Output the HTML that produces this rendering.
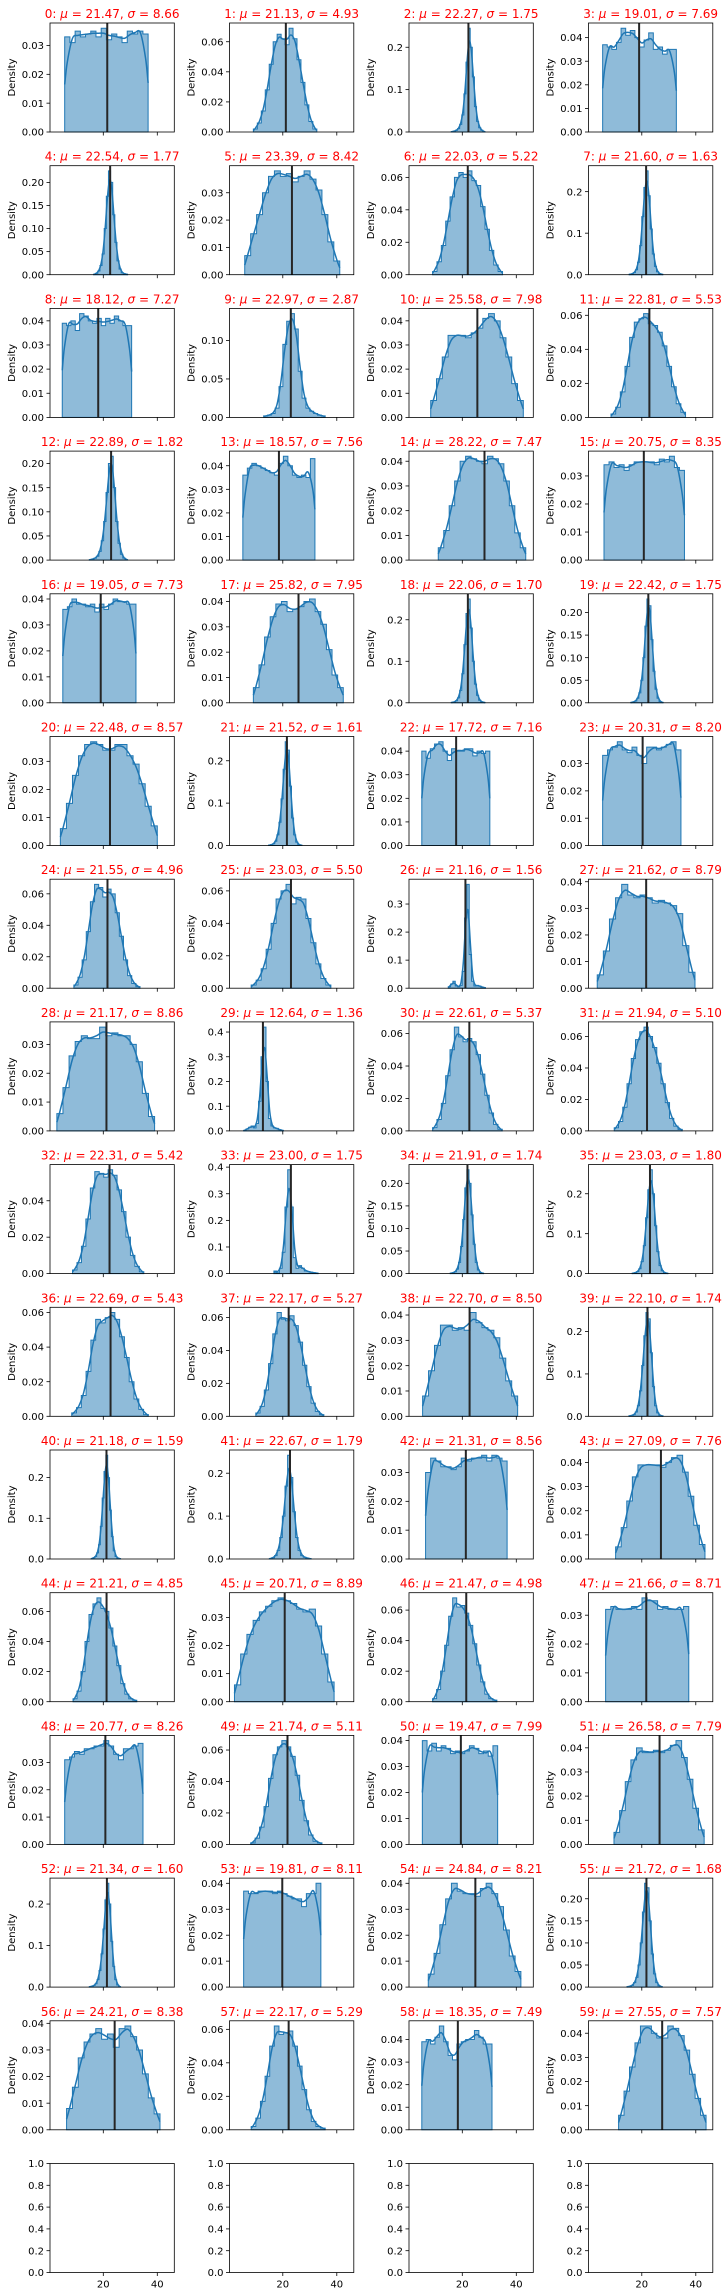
<!DOCTYPE html>
<html><head><meta charset="utf-8">
<style>
html,body{margin:0;padding:0;background:#fff;}
svg{display:block;font-family:"DejaVu Sans","Liberation Sans",sans-serif;}
</style></head>
<body>
<svg id="fig" width="723" height="2296" viewBox="0 0 723 2296" xmlns="http://www.w3.org/2000/svg"></svg>
<script>
const mus=[21.47,21.13,22.27,19.01,22.54,23.39,22.03,21.60,18.12,22.97,25.58,22.81,22.89,18.57,28.22,20.75,19.05,25.82,22.06,22.42,22.48,21.52,17.72,20.31,21.55,23.03,21.16,21.62,21.17,12.64,22.61,21.94,22.31,23.00,21.91,23.03,22.69,22.17,22.70,22.10,21.18,22.67,21.31,27.09,21.21,20.71,21.47,21.66,20.77,21.74,19.47,26.58,21.34,19.81,24.84,21.72,24.21,22.17,18.35,27.55];
const sigmas=[8.66,4.93,1.75,7.69,1.77,8.42,5.22,1.63,7.27,2.87,7.98,5.53,1.82,7.56,7.47,8.35,7.73,7.95,1.70,1.75,8.57,1.61,7.16,8.20,4.96,5.50,1.56,8.79,8.86,1.36,5.37,5.10,5.42,1.75,1.74,1.80,5.43,5.27,8.50,1.74,1.59,1.79,8.56,7.76,4.85,8.89,4.98,8.71,8.26,5.11,7.99,7.79,1.60,8.11,8.21,1.68,8.38,5.29,7.49,7.57];
const los=[5.7,9.1,15.9,5.5,16.4,5.9,9.0,15.3,4.8,12.9,8.3,8.6,14.8,5.2,11.1,6.0,5.0,9.1,15.9,15.9,4.1,14.7,5.0,5.5,9.1,8.3,14.8,3.5,2.8,5.5,9.0,9.8,8.6,16.7,15.5,16.4,8.3,10.0,5.3,15.2,15.5,15.0,6.4,10.3,8.8,2.1,9.0,6.6,5.7,8.1,5.2,9.7,14.8,5.5,7.4,14.5,6.4,8.3,5.0,11.4];
const his=[36.6,32.6,28.4,32.8,29.0,41.1,34.9,27.8,30.5,35.7,42.6,36.2,29.0,31.9,43.5,35.8,32.1,42.4,28.4,27.9,40.0,27.1,30.2,34.5,33.6,37.8,28.6,39.7,39.0,20.2,34.8,35.0,35.0,33.1,27.9,29.7,36.7,35.2,40.5,27.9,26.4,30.5,36.6,43.4,32.4,39.0,32.8,37.4,34.7,34.5,33.1,43.1,26.4,34.1,41.7,27.6,41.0,35.7,31.0,43.8];
const bins=[
[.033,.031,.035,.033,.034,.035,.033,.036,.032,.034,.033,.031,.035,.034,.035,.034],
[.002,.006,.014,.028,.045,.060,.065,.062,.058,.069,.062,.048,.033,.018,.007,.002],
[.001,.002,.004,.008,.018,.040,.090,.165,.245,.200,.130,.060,.025,.010,.004,.001],
[.037,.036,.035,.038,.044,.041,.043,.040,.036,.039,.042,.035,.036,.033,.035,.035],
[.001,.003,.008,.020,.045,.100,.170,.225,.200,.130,.070,.030,.012,.004,.002,.001],
[.007,.015,.022,.030,.036,.038,.036,.037,.034,.036,.038,.035,.031,.022,.012,.005],
[.002,.008,.018,.033,.048,.060,.063,.060,.064,.058,.055,.042,.028,.015,.006,.002],
[.001,.002,.005,.012,.030,.070,.140,.210,.250,.190,.110,.050,.020,.007,.002,.001],
[.039,.038,.040,.036,.043,.042,.040,.039,.041,.038,.041,.039,.042,.040,.038,.038],
[.002,.003,.005,.012,.040,.095,.125,.135,.115,.060,.025,.012,.008,.005,.003,.002],
[.007,.016,.025,.034,.034,.034,.033,.035,.037,.041,.043,.040,.033,.025,.014,.007],
[.002,.006,.015,.030,.047,.056,.058,.061,.055,.054,.050,.042,.030,.018,.008,.003],
[.001,.002,.004,.008,.018,.040,.080,.140,.200,.215,.150,.080,.035,.012,.004,.001],
[.036,.039,.041,.040,.039,.038,.037,.036,.041,.044,.040,.036,.035,.036,.035,.043],
[.005,.012,.022,.032,.040,.042,.041,.040,.039,.042,.041,.039,.032,.022,.011,.005],
[.034,.035,.033,.034,.032,.034,.035,.035,.035,.035,.034,.036,.035,.037,.033,.032],
[.036,.037,.040,.038,.038,.037,.038,.035,.038,.036,.038,.040,.039,.039,.038,.038],
[.006,.015,.026,.034,.039,.040,.036,.037,.038,.040,.041,.036,.031,.021,.011,.006],
[.001,.002,.005,.012,.030,.070,.140,.215,.250,.180,.100,.045,.018,.006,.002,.001],
[.001,.002,.004,.010,.022,.050,.100,.170,.230,.215,.140,.070,.030,.010,.003,.001],
[.006,.015,.025,.032,.036,.037,.036,.034,.034,.036,.036,.032,.029,.022,.014,.007],
[.001,.002,.004,.010,.025,.055,.110,.180,.245,.225,.140,.065,.025,.008,.002,.001],
[.040,.037,.041,.043,.044,.040,.036,.041,.040,.040,.041,.041,.038,.040,.039,.040],
[.033,.035,.036,.038,.035,.034,.036,.033,.030,.036,.036,.035,.036,.037,.038,.035],
[.002,.007,.018,.036,.055,.066,.064,.058,.063,.060,.048,.033,.018,.008,.003,.001],
[.002,.005,.012,.024,.040,.055,.060,.064,.052,.056,.055,.043,.028,.015,.006,.002],
[.005,.015,.025,.008,.005,.010,.060,.250,.370,.120,.025,.008,.010,.008,.004,.002],
[.005,.014,.026,.034,.039,.035,.034,.035,.034,.032,.033,.032,.031,.028,.016,.006],
[.006,.015,.026,.031,.033,.032,.032,.036,.033,.034,.033,.033,.030,.024,.013,.005],
[.002,.008,.015,.020,.012,.030,.120,.300,.420,.200,.050,.020,.012,.010,.005,.002],
[.002,.007,.017,.034,.050,.064,.058,.055,.057,.055,.047,.035,.022,.011,.004,.001],
[.002,.006,.015,.030,.046,.058,.063,.066,.060,.053,.043,.030,.018,.008,.003,.001],
[.002,.006,.015,.030,.047,.056,.055,.053,.057,.054,.046,.034,.020,.010,.004,.001],
[.010,.003,.020,.080,.250,.390,.250,.060,.020,.030,.020,.010,.008,.005,.003,.002],
[.001,.002,.004,.010,.025,.060,.120,.190,.230,.200,.130,.065,.025,.008,.002,.001],
[.001,.002,.005,.012,.030,.070,.140,.210,.260,.200,.120,.055,.020,.007,.002,.001],
[.002,.005,.012,.026,.044,.056,.054,.057,.060,.056,.046,.034,.020,.010,.004,.001],
[.002,.006,.016,.032,.050,.063,.059,.058,.061,.055,.045,.031,.018,.008,.003,.001],
[.008,.018,.028,.036,.036,.034,.035,.034,.041,.037,.035,.034,.031,.023,.014,.008],
[.001,.002,.004,.010,.025,.060,.120,.190,.245,.230,.150,.070,.025,.008,.002,.001],
[.001,.003,.006,.015,.035,.080,.150,.215,.255,.200,.120,.055,.020,.006,.002,.001],
[.001,.003,.008,.020,.050,.100,.170,.242,.190,.110,.050,.020,.008,.004,.002,.001],
[.030,.035,.034,.032,.032,.031,.032,.035,.034,.035,.035,.036,.034,.036,.035,.034],
[.005,.013,.024,.034,.039,.039,.039,.039,.038,.040,.042,.043,.036,.026,.014,.006],
[.002,.007,.020,.040,.058,.065,.069,.062,.060,.049,.037,.024,.012,.005,.002,.001],
[.006,.017,.024,.029,.032,.034,.036,.037,.036,.035,.033,.032,.033,.027,.017,.007],
[.002,.008,.020,.037,.056,.068,.062,.063,.058,.050,.038,.024,.013,.005,.002,.001],
[.032,.033,.032,.032,.032,.033,.032,.036,.035,.035,.032,.033,.032,.032,.032,.033],
[.031,.032,.034,.033,.035,.035,.036,.036,.038,.036,.033,.031,.035,.035,.036,.037],
[.001,.004,.011,.024,.042,.057,.062,.066,.062,.056,.044,.028,.015,.006,.002,.001],
[.040,.036,.039,.036,.038,.037,.035,.036,.035,.036,.038,.037,.035,.036,.034,.038],
[.005,.014,.026,.035,.040,.038,.038,.039,.038,.039,.041,.043,.036,.027,.015,.006],
[.001,.002,.004,.008,.018,.040,.080,.140,.210,.250,.200,.110,.050,.018,.005,.001],
[.037,.036,.036,.037,.037,.037,.036,.037,.036,.035,.034,.034,.031,.036,.036,.040],
[.005,.013,.024,.034,.040,.037,.036,.036,.035,.038,.040,.036,.031,.022,.012,.006],
[.001,.002,.004,.010,.022,.050,.100,.170,.235,.225,.150,.075,.030,.010,.003,.001],
[.008,.016,.027,.033,.036,.038,.034,.036,.031,.038,.039,.035,.030,.021,.012,.006],
[.002,.007,.017,.032,.050,.062,.057,.058,.059,.050,.038,.024,.012,.005,.002,.001],
[.039,.040,.038,.041,.046,.039,.033,.031,.038,.039,.040,.040,.044,.041,.038,.038],
[.006,.016,.026,.036,.043,.043,.040,.038,.038,.043,.042,.039,.033,.023,.013,.006]
];
const xTicks=[20,40];
const emptyYTicks=[0,0.2,0.4,0.6,0.8,1.0];

const NS="http://www.w3.org/2000/svg";
const svg=document.getElementById('fig');
const LEFTS=[50,229.5,409,588.5], W=124.3, H=109, TOP0=23, DY=142.7;
const XMIN=0.26, XMAX=46.3;
function mk(tag,attrs,parent){const e=document.createElementNS(NS,tag);for(const k in attrs)e.setAttribute(k,attrs[k]);(parent||svg).appendChild(e);return e;}
function niceStep(top){const raw=top/5;const p=Math.pow(10,Math.floor(Math.log10(raw)));for(const m of [1,2,2.5,5,10]){if(m*p>=raw-1e-12)return m*p;}return 10*p;}
function smooth(b){const n=b.length;return b.map((v,i)=>0.25*(i>0?b[i-1]:0)+0.5*v+0.25*(i<n-1?b[i+1]:0));}
function catmull(pts){let d=`M${pts[0][0]},${pts[0][1]}`;for(let i=0;i<pts.length-1;i++){const p0=pts[i-1]||pts[i],p1=pts[i],p2=pts[i+1],p3=pts[i+2]||p2;
const c1=[p1[0]+(p2[0]-p0[0])/6,p1[1]+(p2[1]-p0[1])/6],c2=[p2[0]-(p3[0]-p1[0])/6,p2[1]-(p3[1]-p1[1])/6];
d+=` C${c1[0].toFixed(2)},${c1[1].toFixed(2)} ${c2[0].toFixed(2)},${c2[1].toFixed(2)} ${p2[0].toFixed(2)},${p2[1].toFixed(2)}`;}return d;}

function drawAxes(g,L,T,yTop,step,labelX){
  const ys=v=>T+H-(v/yTop)*H;
  const dec=step>=0.1-1e-9?1:2;
  for(let v=0;v<=yTop+1e-9;v+=step){
    const y=ys(v);
    const tk=mk('line',{x1:L-3.5,x2:L,y1:y,y2:y,stroke:'#000','stroke-width':0.8},g);
    
    
    const t=mk('text',{x:L-6,y:y+3.6,'text-anchor':'end','font-size':10,fill:'#000'},g);
    
    
    t.textContent=(Math.round(v/step)*step).toFixed(dec);
  }
  const xs=v=>L+(v-XMIN)/(XMAX-XMIN)*W;
  xTicks.forEach(v=>{
    const x=xs(v);
    const tk=mk('line',{x1:x,x2:x,y1:T+H,y2:T+H+3.5,stroke:'#000','stroke-width':0.8},g);
    
    
    if(labelX){const t=mk('text',{x:x,y:T+H+15,'text-anchor':'middle','font-size':10,fill:'#000'},g);
      
      
      t.textContent=v;}
  });
  const fr=mk('rect',{x:L,y:T,width:W,height:H,fill:'none',stroke:'#000','stroke-width':0.8},g);
  
  
}

for(let i=0;i<64;i++){
  const r=Math.floor(i/4),c=i%4;
  const L=LEFTS[c],T=TOP0+r*DY;
  const g=mk('g',{});
  
  
  if(i>=60){drawAxes(g,L,T,1.0,0.2,true);continue;}
  const b=bins[i],n=b.length,lo=los[i],hi=his[i],bw=(hi-lo)/n;
  const sm=smooth(b);
  const kpts=[[lo,b[0]/2]];for(let k=0;k<n;k++)kpts.push([lo+(k+0.5)*bw,sm[k]]);kpts.push([hi,b[n-1]/2]);
  const ymax=Math.max(...b,...sm);
  const yTop=ymax*1.05;
  const step=niceStep(yTop);
  const xs=v=>L+(v-XMIN)/(XMAX-XMIN)*W;
  const ys=v=>T+H-(v/yTop)*H;
  // histogram
  let d=`M${xs(lo).toFixed(2)},${ys(0).toFixed(2)}`;
  for(let k=0;k<n;k++){d+=` L${xs(lo+k*bw).toFixed(2)},${ys(b[k]).toFixed(2)} L${xs(lo+(k+1)*bw).toFixed(2)},${ys(b[k]).toFixed(2)}`;}
  d+=` L${xs(hi).toFixed(2)},${ys(0).toFixed(2)} Z`;
  const hp=mk('path',{d:d,fill:'rgba(31,119,180,0.5)',stroke:'#1f77b4','stroke-width':1,'stroke-linejoin':'miter'},g);
  
  
  const kp=mk('path',{d:catmull(kpts.map(p=>[xs(p[0]),ys(p[1])])),fill:'none',stroke:'#1f77b4','stroke-width':1.5},g);
  
  
  const ml=mk('line',{x1:xs(mus[i]),x2:xs(mus[i]),y1:T,y2:T+H,stroke:'#262626','stroke-width':2},g);
  
  
  drawAxes(g,L,T,yTop,step,false);
  const yl=mk('text',{x:0,y:0,'text-anchor':'middle','font-size':10,fill:'#000',transform:`translate(${L-35},${T+H/2}) rotate(-90)`},g);
  
  
  yl.textContent='Density';
  const tt=mk('text',{x:L+W/2,y:T-5,'text-anchor':'middle','font-size':12,fill:'#ff0000'},g);
  
  
  const parts=[[i+':  ',''],['μ','italic'],[' = '+mus[i].toFixed(2)+',  ',''],['σ','italic'],[' = '+sigmas[i].toFixed(2),'']];
  parts.forEach(p=>{const s=mk('tspan',{},tt);if(p[1])s.setAttribute('font-style','italic');s.textContent=p[0];});
  tt.setAttribute('xml:space','preserve');
}
</script>
</body></html>
